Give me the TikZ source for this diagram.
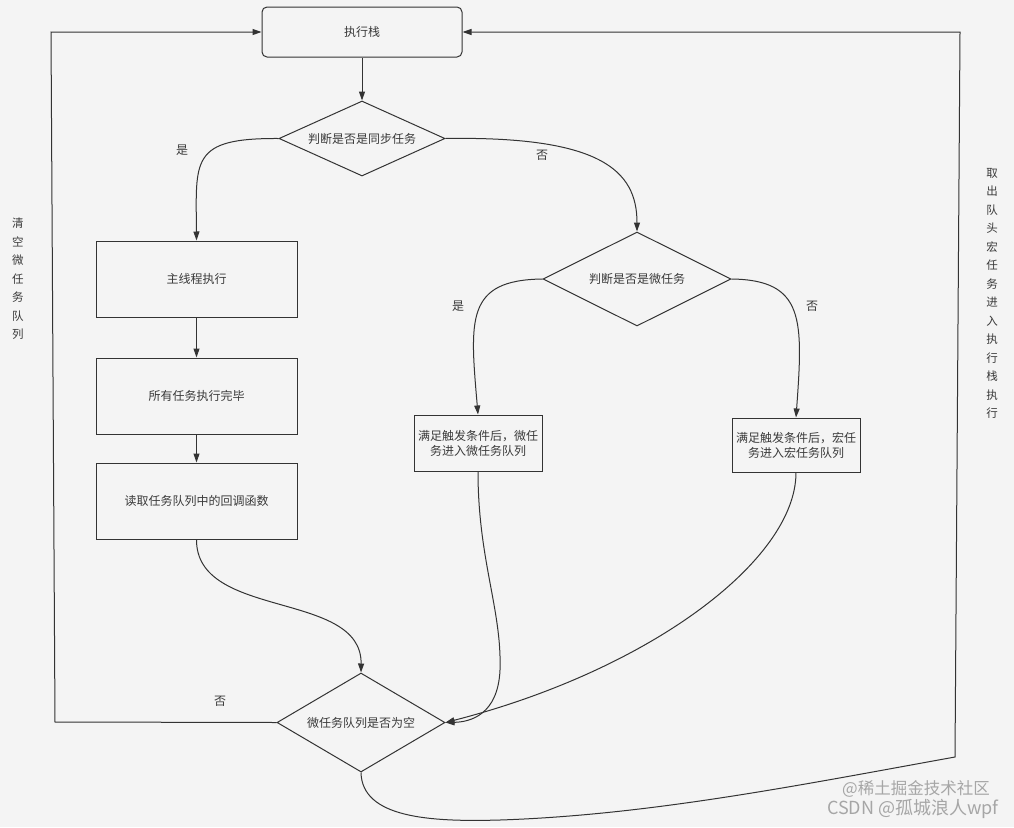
\documentclass[tikz,border=0pt]{standalone}
\usepackage{fontspec}
\setmainfont{Noto Sans CJK SC}
\usetikzlibrary{shapes.geometric,arrows.meta}
\definecolor{bgc}{HTML}{F4F4F4}
\definecolor{ln}{HTML}{333333}
\definecolor{tx}{HTML}{3A3A3A}
\tikzset{
  every node/.style={font=\fontsize{12}{15}\selectfont, text=tx},
  boxnode/.style={draw=ln, line width=1pt, rectangle, inner sep=0pt, align=center},
  decnode/.style={draw=ln, line width=1pt, diamond, inner sep=0pt, aspect=2},
  conn/.style={draw=ln, line width=1pt},
  arr/.style={conn, -{Triangle[length=9pt,width=6pt]}},
  lbl/.style={inner sep=0pt},
  vtext/.style={align=center, inner sep=0pt, font=\fontsize{11.5}{18.5}\selectfont},
  wm/.style={inner sep=0pt, text=gray!70}
}
\begin{document}
\begin{tikzpicture}[x=1pt,y=-1pt]
\fill[bgc] (0,0) rectangle (1014,827);
\useasboundingbox (0,0) rectangle (1014,827);

% nodes
\node[boxnode, rounded corners=5pt, minimum width=200pt, minimum height=50pt] (stack) at (362,32) {执行栈};
\node[decnode, minimum width=166pt, minimum height=75pt] (d1) at (362,138.5) {判断是否是同步任务};
\node[boxnode, minimum width=201pt, minimum height=76pt] (b1) at (196.5,279) {主线程执行};
\node[boxnode, minimum width=201pt, minimum height=76pt] (b2) at (196.5,396) {所有任务执行完毕};
\node[boxnode, minimum width=201pt, minimum height=76pt] (b3) at (196.5,501) {读取任务队列中的回调函数};
\node[decnode, minimum width=188pt, minimum height=94pt] (d2) at (637,279) {判断是否是微任务};
\node[boxnode, minimum width=128pt, minimum height=56pt] (mi) at (478,443) {满足触发条件后，微任\\务进入微任务队列};
\node[boxnode, minimum width=128pt, minimum height=54pt] (ma) at (796,445) {满足触发条件后，宏任\\务进入宏任务队列};
\node[decnode, minimum width=168pt, minimum height=99pt] (d3) at (361,722.5) {微任务队列是否为空};

% helper coordinates
\coordinate (lb) at (55,722);
\coordinate (lt) at (51,32);
\coordinate (rb) at (955,757);
\coordinate (rt) at (960,32);
\coordinate (bm) at (500,820);

% connectors
\draw[arr] (stack.south) -- (d1.north);
\draw[arr] (d1.west) .. controls (190,138) and (196,160) .. (b1.north);
\draw[arr] (d1.east) .. controls (600,136) and (637,170) .. (d2.north);
\draw[arr] (b1.south) -- (b2.north);
\draw[arr] (b2.south) -- (b3.north);
\draw[arr] (d2.west) .. controls (465,280) and (470,320) .. (mi.north);
\draw[arr] (d2.east) .. controls (805,280) and (803,320) .. (ma.north);
\draw[arr] (b3.south) .. controls (196,620) and (362,590) .. (d3.north);
\coordinate (mm) at (500,670);
\draw[arr] (mi.south) .. controls (478,560) and (502,610) .. (mm) .. controls (498,715) and (470,722) .. (d3.east);
\draw[arr] (ma.south) .. controls (796,560) and (650,670) .. (d3.east);
\draw[arr] (d3.west) -- (lb) -- (lt) -- (stack.west);
\draw[arr] (d3.south) .. controls (362,818) and (430,822) .. (bm) .. controls (650,815) and (800,785) .. (rb) -- (rt) -- (stack.east);

% labels
\node[lbl] (l1) at (182,150) {是};
\node[lbl] (l2) at (542,155) {否};
\node[lbl] (l3) at (458,306) {是};
\node[lbl] (l4) at (812,306) {否};
\node[lbl] (l5) at (220,701) {否};

% vertical texts
\node[vtext, anchor=north] (vl) at (18,218) {清\\空\\微\\任\\务\\队\\列};
\node[vtext, anchor=north] (vr) at (992,168) {取\\出\\队\\头\\宏\\任\\务\\进\\入\\执\\行\\栈\\执\\行};

% watermark
\node[wm, anchor=east, font=\fontsize{16.5}{17}\selectfont] (w1) at (990,789) {@稀土掘金技术社区};
\node[wm, anchor=east, font=\fontsize{18}{18}\selectfont] (w2) at (999,809) {CSDN @孤城浪人wpf};
\end{tikzpicture}
\end{document}
